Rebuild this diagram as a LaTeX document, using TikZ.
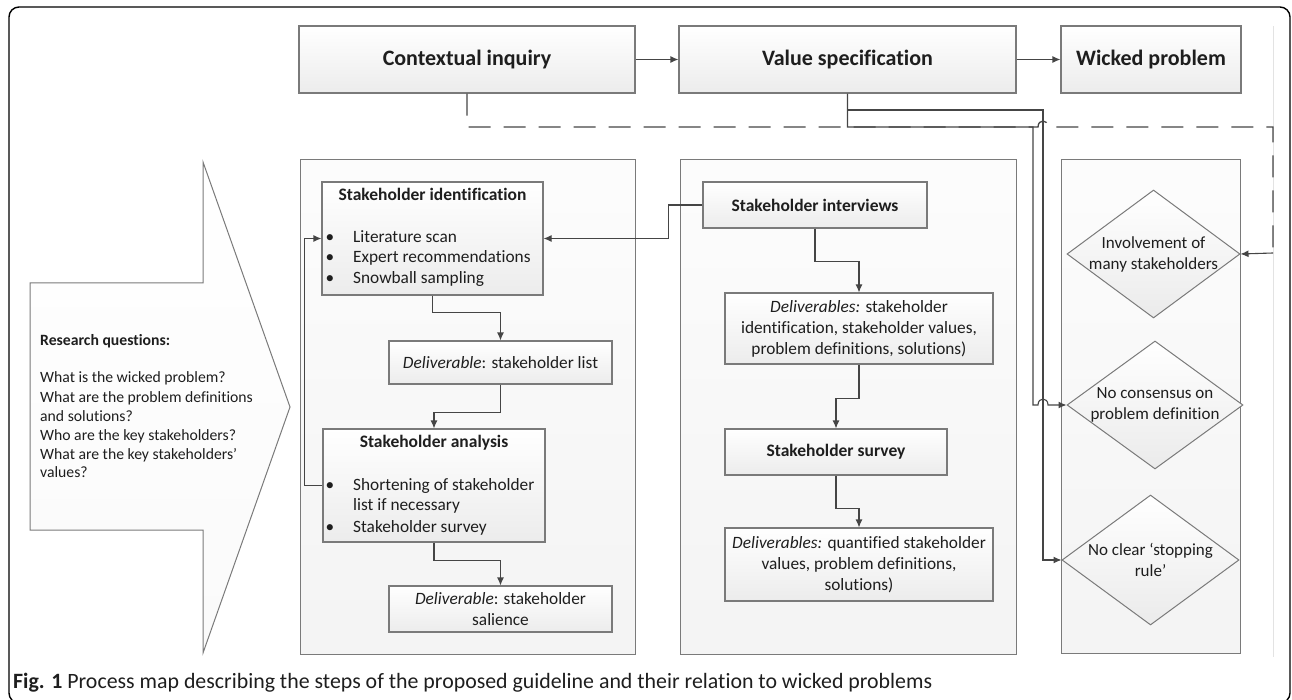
\documentclass[tikz,border=0pt]{standalone}
\usepackage{fontspec}
\usepackage{graphicx}
\setmainfont{Carlito}[Ligatures=NoCommon]
\usetikzlibrary{arrows.meta,shapes.geometric}

\definecolor{lineclr}{HTML}{454545}
\definecolor{boxclr}{HTML}{7A7A7A}
\definecolor{txtclr}{HTML}{1E1E1E}

\tikzset{
  stepbox/.style={draw=boxclr, line width=1.1pt, top color=white, bottom color=gray!15,
    inner sep=0pt, align=center, text=txtclr, font=\fontsize{17.3}{21}\selectfont},
  headbox/.style={stepbox, font=\fontsize{17.5}{21}\selectfont\bfseries},
  topbox/.style={stepbox, minimum height=67, font=\fontsize{22}{26}\selectfont\bfseries},
  panelbox/.style={draw=boxclr, line width=1pt, top color=gray!2, bottom color=gray!9},
  riskdia/.style={diamond, draw=boxclr, line width=1pt, top color=white, bottom color=gray!16, inner sep=0pt},
  conn/.style={draw=lineclr, line width=1.1pt, -{Latex[length=8pt,width=7pt]}},
  dashconn/.style={draw=lineclr, line width=1.3pt, dash pattern=on 22pt off 13pt},
  bodytxt/.style={font=\fontsize{17}{21}\selectfont, text=txtclr, align=center, inner sep=0pt},
  linetxt/.style={bodytxt, font=\fontsize{17.3}{21}\selectfont, text height=12pt, text depth=4pt},
  questxt/.style={font=\fontsize{15.7}{19}\selectfont, text=txtclr, inner sep=0pt,
    anchor=west, text height=11.5pt, text depth=3.5pt},
}

\begin{document}
\begin{tikzpicture}[x=1pt, y=-1pt]
  \useasboundingbox (0,0) rectangle (1292,700);

  % outer frame and faint edge of the figure
  \draw[line width=1.4pt, rounded corners=10pt] (9,7) rectangle (1290,703);
  \draw[gray!22, line width=0.8pt] (1273,26) -- (1273,657);

  % the three phases
  \node[topbox, minimum width=336] (ci) at (467,59.5) {Contextual inquiry};
  \node[topbox, minimum width=337] (vs) at (847.5,59.5) {Value specification};
  \node[topbox, minimum width=180] (wp) at (1151,59.5) {Wicked problem};

  % panels under the phases
  \draw[panelbox] (300,160) rectangle (635,654);
  \draw[panelbox] (680,160) rectangle (1016,654);
  \draw[panelbox] (1061,160) rectangle (1240,653);

  % big arrow with the research questions
  \draw[draw=boxclr, line width=1pt, top color=white, bottom color=gray!4]
    (30,283) -- (203,283) -- (203,162) -- (290,407) -- (203,653) -- (203,530) -- (30,530) -- cycle;
  \node[questxt, font=\fontsize{15.7}{19}\selectfont\bfseries] at (40,341) {Research questions:};
  \foreach \yy/\q in {378/What is the wicked problem?, 398/What are the problem definitions,
      417/and solutions?, 436/Who are the key stakeholders?,
      455/What are the key stakeholders’, 473/values?} {
    \node[questxt] at (40,\yy) {\q};
  }

  % left column: stakeholder identification and analysis
  \node[stepbox, minimum width=221, minimum height=113] (si) at (432.5,238.5) {};
  \node[linetxt, font=\fontsize{17.5}{21}\selectfont\bfseries] at (432.5,197) {Stakeholder identification};
  \foreach \yy/\t in {239/Literature scan, 259/Expert recommendations, 280/Snowball sampling} {
    \node[linetxt] at (330,\yy) {\textbullet};
    \node[linetxt, anchor=west] at (353,\yy) {\t};
  }
  \node[stepbox, minimum width=223, minimum height=43] (dl) at (500.5,362.5) {\textit{Deliverable}: stakeholder list};

  \node[stepbox, minimum width=222, minimum height=113] (sa) at (434,485.5) {};
  \node[linetxt, font=\fontsize{17.5}{21}\selectfont\bfseries] at (434,443) {Stakeholder analysis};
  \foreach \yy in {486,528} {
    \node[linetxt] at (330,\yy) {\textbullet};
  }
  \foreach \yy/\t in {486/Shortening of stakeholder, 506/list if necessary, 528/Stakeholder survey} {
    \node[linetxt, anchor=west] at (353,\yy) {\t};
  }
  \node[stepbox, minimum width=223, minimum height=46] (ds) at (500.5,609) {\textit{Deliverable}: stakeholder\\salience};

  % middle column: interviews and survey
  \node[headbox, minimum width=224, minimum height=46] (int) at (815,205) {Stakeholder interviews};
  \node[stepbox, minimum width=268, minimum height=71] (del1) at (859,328.5)
    {\textit{Deliverables:} stakeholder\\identification, stakeholder values,\\problem definitions, solutions)};
  \node[headbox, minimum width=222, minimum height=46] (sv) at (836,452) {Stakeholder survey};
  \node[stepbox, minimum width=268, minimum height=73] (del2) at (859,564.5)
    {\textit{Deliverables:} quantified stakeholder\\values, problem definitions,\\solutions)};

  % right column: wicked problem properties
  \node[riskdia, minimum width=173, minimum height=128] (d1) at (1153.5,254) {};
  \node[bodytxt] at (d1) {Involvement of\\many stakeholders};
  \node[riskdia, minimum width=176, minimum height=128] (d2) at (1155,405) {};
  \node[bodytxt] at (d2) {No consensus on\\problem definition};
  \node[riskdia, minimum width=177, minimum height=130] (d3) at (1150.5,560) {};
  \node[bodytxt] at (d3) {No clear ‘stopping\\rule’};

  % connectors
  \draw[conn] (ci.east) -- (vs.west);
  \draw[conn] (vs.east) -- (wp.west);
  \draw[conn] (si.south) -- ++(0,17) -| (dl.north);
  \draw[conn] (dl.south) -- ++(0,28) -| (sa.north);
  \draw[conn] (sa.south) -- ++(0,18) -| (ds.north);
  \draw[conn] (sa.west) -- ++(-18,0) |- (si.west);
  \draw[conn] (int.west) -- ++(-34,0) |- (si.east);
  \draw[conn] (int.south) -- ++(0,33) -| (del1.north);
  \draw[conn] (del1.south) -- ++(0,34) -| (sv.north);
  \draw[conn] (sv.south) -- ++(0,33) -| (del2.north);

  % value specification feeds the properties
  \draw[conn] (vs.south) |- (1043,110) |- (d3.west);
  \draw[conn] (vs.south) |- (1033,127) -- (1033,405) -- (1038,405)
    .. controls (1038,397) and (1048,397) .. (1048,405) -- (d2.west);

  % contextual inquiry feeds the first property
  \draw[dashconn] (ci.south) |- (1038,127) .. controls (1038,119) and (1048,119) .. (1048,127)
    -| (1273,253) coordinate (dturn);
  \draw[conn] (dturn) -- (d1.east);

  % caption
  \node[anchor=base west, inner sep=0pt, text=txtclr, font=\fontsize{22}{26}\selectfont] (cap) at (13,688)
    {\resizebox{919pt}{!}{\textbf{Fig. 1} Process map describing the steps of the proposed guideline and their relation to wicked problems}};
\end{tikzpicture}
\end{document}
